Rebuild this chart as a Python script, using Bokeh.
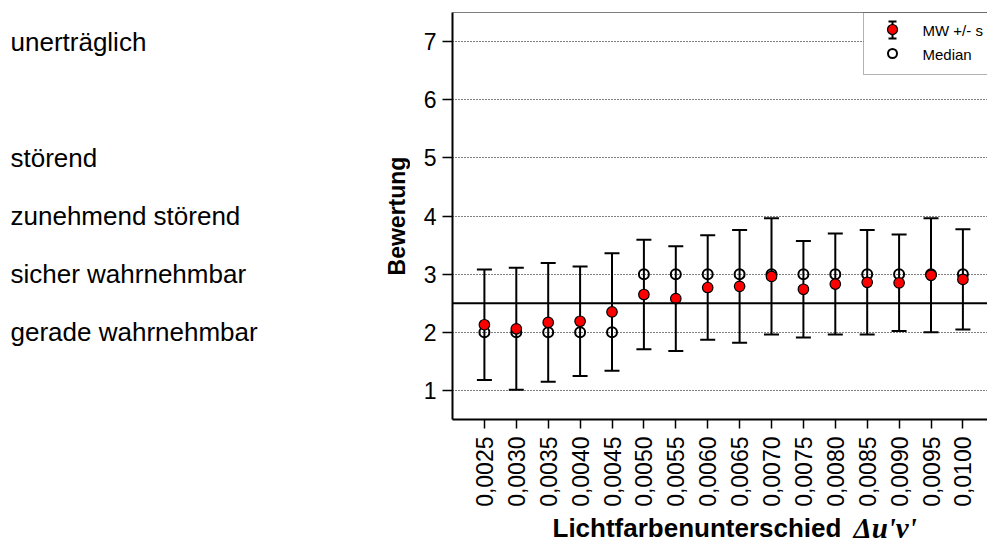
import math
from bokeh.plotting import figure
from bokeh.layouts import row, column
from bokeh.core.properties import value
from bokeh.models import (Range1d, FixedTicker, Whisker, TeeHead, ColumnDataSource,
                          Span, Label, BoxAnnotation)
from bokeh.embed import file_html
from bokeh.resources import INLINE

# ---------------- data ----------------
categories = ["0,0025", "0,0030", "0,0035", "0,0040", "0,0045", "0,0050", "0,0055", "0,0060",
              "0,0065", "0,0070", "0,0075", "0,0080", "0,0085", "0,0090", "0,0095", "0,0100"]
mw = [2.13, 2.06, 2.17, 2.19, 2.35, 2.65, 2.58, 2.77, 2.79, 2.96, 2.74, 2.83, 2.86, 2.85, 2.98, 2.91]
sd = [0.95, 1.05, 1.02, 0.94, 1.01, 0.94, 0.90, 0.90, 0.97, 1.00, 0.83, 0.87, 0.90, 0.83, 0.98, 0.86]
median = [2, 2, 2, 2, 2, 3, 3, 3, 3, 3, 3, 3, 3, 3, 3, 3]
y_ticks = [1, 2, 3, 4, 5, 6, 7]
levels = [7, 5, 4, 3, 2]
level_names = ["unerträglich", "störend", "zunehmend störend", "sicher wahrnehmbar", "gerade wahrnehmbar"]
threshold = 2.5
legend_labels = ["MW +/- s", "Median"]
y_title = "Bewertung"
x_title = "Lichtfarbenunterschied"
x_title_sym = "Δu'v'"

# ---------------- layout geometry ----------------
W, H = 987, 544
LEFT_W = 410           # width of the left text panel
TOP_H = 510            # height of the upper row (bottom strip holds x title)
L, R, T, B = 452, 987, 12, 419
STEP = 31.9
X0 = -1.0
X1 = X0 + (R - L) / STEP
Y0, Y1 = 0.5, 7.5
SANS = "Liberation Sans"


def px2x(px):
    return X0 + (px - L) / (R - L) * (X1 - X0)


def px2y(py):
    return Y1 - (py - T) / (B - T) * (Y1 - Y0)


idx = list(range(len(categories)))
src = ColumnDataSource(dict(
    x=idx, mw=mw, median=median,
    upper=[m + s for m, s in zip(mw, sd)],
    lower=[m - s for m, s in zip(mw, sd)],
))

# ---------------- main plot ----------------
p = figure(width=W - LEFT_W, height=TOP_H, x_range=Range1d(X0, X1), y_range=Range1d(Y0, Y1),
           output_backend="svg", toolbar_location=None,
           min_border_left=L - LEFT_W, min_border_right=W - R, min_border_top=T,
           min_border_bottom=TOP_H - B)
p.outline_line_color = None
p.background_fill_color = "white"
p.border_fill_color = "white"

xa = p.xaxis[0]
xa.ticker = FixedTicker(ticks=idx)
xa.major_label_overrides = {i: c for i, c in zip(idx, categories)}
xa.major_label_orientation = math.pi / 2
xa.minor_tick_line_color = None
xa.major_tick_in = 0
xa.major_tick_out = 9
xa.major_tick_line_width = 1.5
xa.major_tick_line_color = "black"
xa.axis_line_width = 2
xa.axis_line_color = "black"
xa.major_label_text_font = SANS
xa.major_label_text_font_size = "23px"
xa.major_label_text_color = "black"
xa.major_label_standoff = 8

ya = p.yaxis[0]
ya.ticker = FixedTicker(ticks=y_ticks)
ya.minor_tick_line_color = None
ya.major_tick_in = 0
ya.major_tick_out = 10
ya.major_tick_line_width = 1.5
ya.major_tick_line_color = "black"
ya.axis_line_width = 2
ya.axis_line_color = "black"
ya.major_label_text_font = SANS
ya.major_label_text_font_size = "23px"
ya.major_label_text_color = "black"
ya.major_label_standoff = 6

p.xgrid.visible = False
p.ygrid.ticker = FixedTicker(ticks=y_ticks)
p.ygrid.grid_line_color = "black"
p.ygrid.grid_line_dash = "1 2"
p.ygrid.grid_line_width = 1

p.add_layout(Span(location=Y1, dimension="width", line_color="black", line_width=1))
p.add_layout(Span(location=threshold, dimension="width", line_color="black", line_width=2))

wh = Whisker(source=src, base="x", upper="upper", lower="lower",
             line_color="black", line_width=2, level="underlay",
             upper_head=TeeHead(size=15, line_width=2, line_color="black"),
             lower_head=TeeHead(size=15, line_width=2, line_color="black"))
p.add_layout(wh)

p.scatter("x", "median", source=src, size=10, fill_color=None, line_color="black", line_width=2)
p.scatter("x", "mw", source=src, size=10.5, fill_color="#FF0000", line_color="black", line_width=1.2)

# legend
box = BoxAnnotation(left=px2x(863), right=px2x(1000), top=Y1, bottom=px2y(74),
                    fill_color="white", fill_alpha=1, line_color="black", line_width=1,
                    level="underlay")
p.add_layout(box)
lx = px2x(892)
p.segment(x0=[lx, px2x(888), px2x(888)], y0=[px2y(21), px2y(21), px2y(38)],
          x1=[lx, px2x(896), px2x(896)], y1=[px2y(38), px2y(21), px2y(38)],
          line_color="black", line_width=2)
p.scatter([lx], [px2y(29)], size=10, fill_color="#FF0000", line_color="black", line_width=1.2)
p.scatter([lx], [px2y(53)], size=9, fill_color=None, line_color="black", line_width=2)
for txt, yy in zip(legend_labels, [px2y(30), px2y(54)]):
    p.add_layout(Label(x=px2x(922), y=yy, text=txt, text_font=SANS, text_font_size="15px",
                       text_align="left", text_baseline="middle", text_color="black"))

# ---------------- left panel: verbal scale + y title ----------------
lp = figure(width=LEFT_W, height=TOP_H, x_range=Range1d(0, LEFT_W), y_range=Range1d(Y0, Y1),
            output_backend="svg", toolbar_location=None, x_axis_type=None, y_axis_type=None,
            min_border_left=0, min_border_right=0, min_border_top=T, min_border_bottom=TOP_H - B)
lp.outline_line_color = None
lp.grid.visible = False
lp.background_fill_color = "white"
lp.border_fill_color = "white"
lp.text(x=[10] * len(levels), y=levels, text=level_names, text_font=value(SANS),
        text_font_size="26px", text_baseline="middle", text_align="left", text_color="black")
lp.text(x=[396], y=[(Y0 + Y1) / 2], text=[y_title], angle=math.pi / 2, text_font=value(SANS),
        text_font_style="bold", text_font_size="23px", text_baseline="middle",
        text_align="center", text_color="black")

# ---------------- bottom strip: x title ----------------
BH = H - TOP_H
bp = figure(width=W, height=BH, x_range=Range1d(0, W), y_range=Range1d(0, BH),
            output_backend="svg", toolbar_location=None, x_axis_type=None, y_axis_type=None,
            min_border=0)
bp.outline_line_color = None
bp.grid.visible = False
bp.background_fill_color = "white"
bp.border_fill_color = "white"
bp.text(x=[552], y=[BH - 17], text=[x_title], text_font=value(SANS), text_font_style="bold",
        text_font_size="26px", text_baseline="middle", text_align="left", text_color="black")
bp.text(x=[853], y=[BH - 17], text=[x_title_sym], text_font=value("Liberation Serif"),
        text_font_style="bold italic", text_font_size="29px", text_baseline="middle",
        text_align="left", text_color="black")

layout = column(row(lp, p, spacing=0), bp, spacing=0)
open("out.html", "w").write(file_html(layout, INLINE))
